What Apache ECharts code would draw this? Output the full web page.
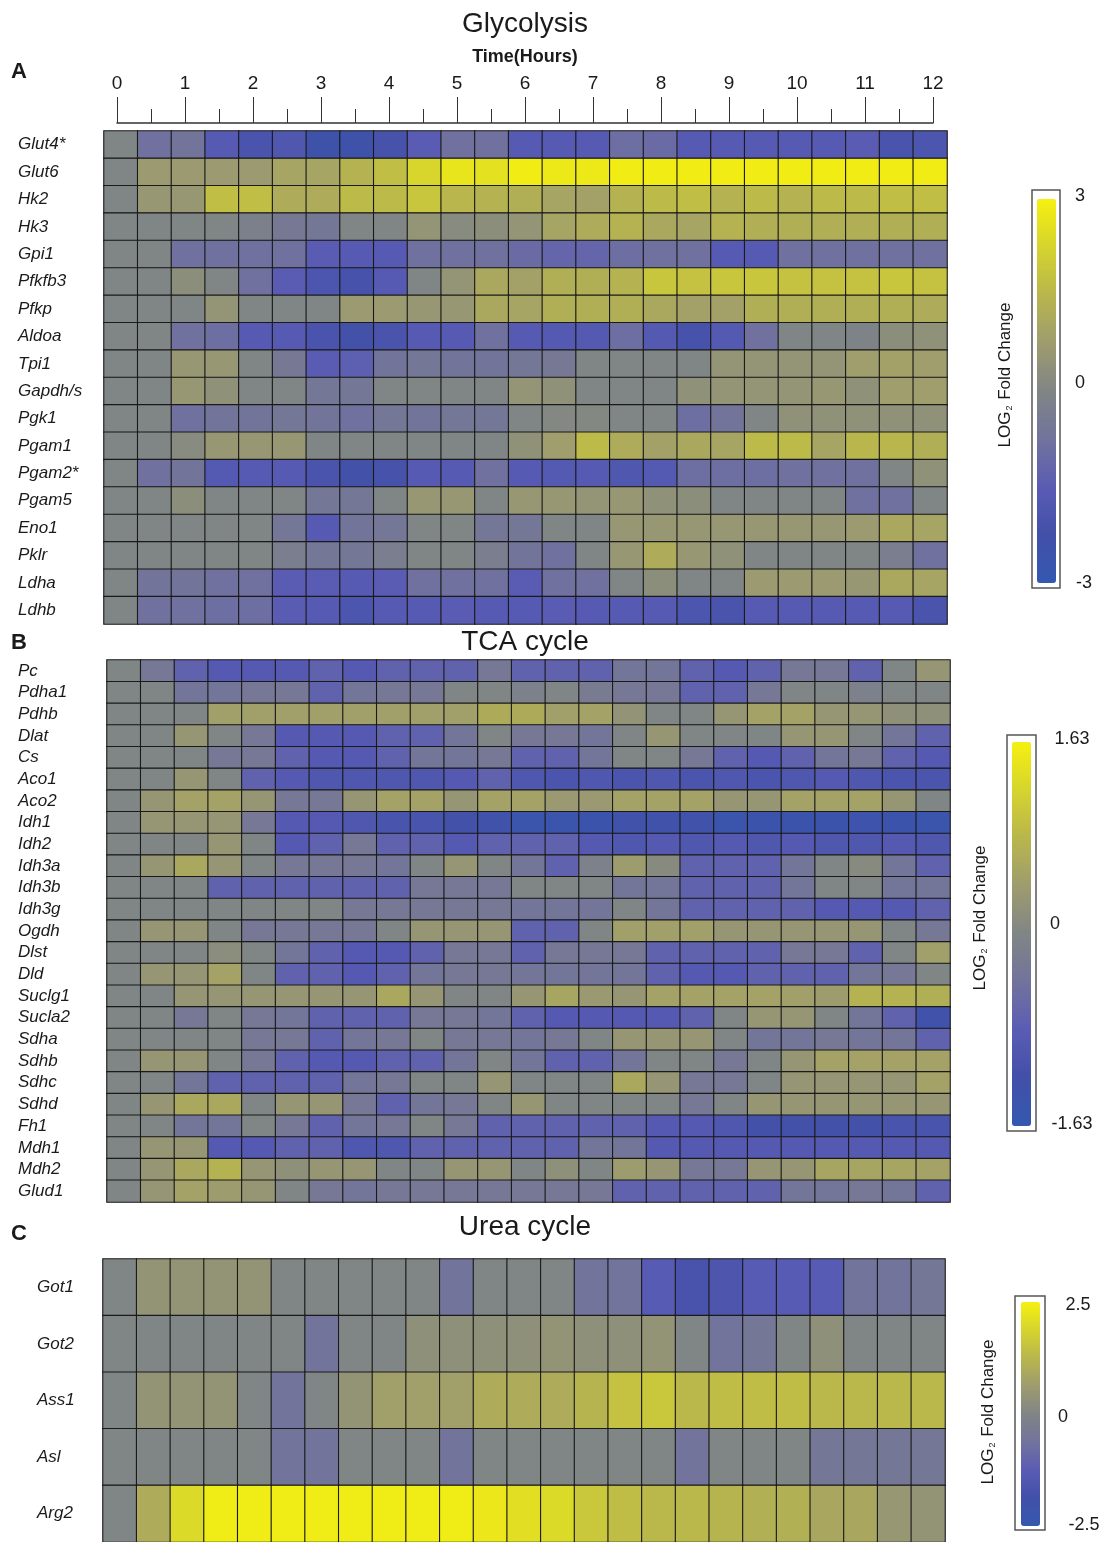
<!DOCTYPE html>
<html><head><meta charset="utf-8">
<script src="https://cdn.jsdelivr.net/npm/echarts@6/dist/echarts.min.js"></script>
<style>html,body{margin:0;padding:0;background:#fff}#c{width:1109px;height:1542px}</style>
</head><body><div id="c"></div>
<script>
// ---------- DATA ----------
const timePoints = ['0','0.5','1','1.5','2','2.5','3','3.5','4','4.5','5','5.5','6','6.5','7','7.5','8','8.5','9','9.5','10','10.5','11','11.5','12'];

const glycolysisGenes = ['Glut4*','Glut6','Hk2','Hk3','Gpi1','Pfkfb3','Pfkp','Aldoa','Tpi1','Gapdh/s','Pgk1','Pgam1','Pgam2*','Pgam5','Eno1','Pklr','Ldha','Ldhb'];
const glycolysisValues = [
  [0,-0.8,-0.7,-1.6,-2.0,-1.8,-2.4,-2.4,-2.1,-1.5,-0.8,-0.8,-1.6,-1.6,-1.6,-0.9,-1.0,-1.6,-1.6,-1.6,-1.6,-1.6,-1.5,-2.0,-1.9],
  [0,0.7,0.7,0.7,0.7,1.0,1.0,1.4,1.7,2.3,2.7,2.6,2.9,2.8,2.8,2.9,2.9,2.9,2.9,2.9,2.9,2.9,2.9,2.9,2.9],
  [0,0.6,0.6,1.7,1.7,1.2,1.2,1.6,1.6,1.9,1.5,1.4,1.3,1.0,0.9,1.4,1.6,1.7,1.4,1.6,1.4,1.6,1.6,1.7,1.7],
  [0,0,0,0,-0.2,-0.5,-0.6,0,0,0.5,0.2,0.3,0.5,1.0,1.2,1.4,1.1,1.0,1.4,1.3,1.3,1.3,1.3,1.3,1.3],
  [0,0,-0.8,-0.8,-0.8,-0.8,-1.5,-1.6,-1.6,-0.8,-0.8,-0.8,-1.0,-1.2,-1.2,-0.9,-0.8,-0.8,-1.6,-1.6,-0.8,-0.8,-0.8,-0.8,-0.8],
  [0,0,0.3,0,-0.8,-1.5,-1.9,-2.1,-1.6,0,0.5,1.1,0.9,1.3,1.3,1.4,1.9,1.8,1.9,1.9,1.8,1.8,1.8,1.9,1.8],
  [0,0,0,0.5,0,0,0,0.7,0.7,0.6,0.6,1.1,1.0,1.3,1.3,1.3,1.1,0.9,0.9,1.3,1.3,1.3,1.3,1.3,1.2],
  [0,0,-0.8,-0.9,-1.6,-1.6,-2.0,-2.2,-2.0,-1.6,-1.6,-0.8,-1.6,-1.7,-1.7,-0.9,-1.7,-2.1,-1.7,-0.8,0,0,-0.1,0.3,0.4],
  [0,0,0.6,0.6,0,-0.5,-1.5,-1.4,-0.7,-0.6,-0.7,-0.7,-0.6,-0.5,0,0,0,0,0.5,0.5,0.5,0.5,0.8,0.9,0.8],
  [0,0,0.6,0.4,0,0,-0.6,-0.6,0,0,0,0,0.5,0.4,0,0,0,0.4,0.5,0.5,0.5,0.6,0.4,0.8,0.8],
  [0,0,-0.8,-0.7,-0.7,-0.6,-0.7,-0.8,-0.6,-0.7,-0.6,-0.6,0,0.1,0.1,0,0,-0.9,-0.7,0,0.4,0.4,0.4,0.4,0.4],
  [0,0,0.2,0.6,0.6,0.6,0,0,0,0,0,0,0.4,0.8,1.6,1.2,0.9,1.1,1.0,1.6,1.6,1.0,1.5,1.5,1.3],
  [0,-0.8,-0.7,-1.7,-1.6,-1.6,-2.0,-2.2,-2.1,-1.6,-1.6,-0.8,-1.6,-1.7,-1.6,-1.8,-1.7,-0.9,-0.9,-0.9,-0.8,-0.8,-0.8,0,0.4],
  [0,0,0.3,0,0,0,-0.6,-0.6,0,0.6,0.6,0,0.6,0.6,0.5,0.6,0.4,0.3,0,0,0,0,-0.8,-0.8,0],
  [0,0,0,0,0,-0.6,-1.6,-0.7,-0.6,0,0,-0.6,-0.6,0,0,0.6,0.6,0.6,0.6,0.6,0.6,0.6,0.7,1.1,1.0],
  [0,0,0,0,0,-0.3,-0.6,-0.6,-0.3,0,0,-0.3,-0.7,-0.8,0,0.6,1.2,0.6,0.4,0,0,0,0,-0.3,-0.8],
  [0,-0.7,-0.7,-0.8,-0.8,-1.5,-1.5,-1.6,-1.5,-0.8,-0.8,-0.8,-1.5,-0.8,-0.8,0,0.3,0,0,0.7,0.7,0.7,0.6,1.1,1.0],
  [0,-0.8,-0.8,-0.9,-0.9,-1.5,-1.6,-1.9,-1.6,-1.6,-1.5,-1.6,-1.6,-1.5,-1.6,-1.6,-1.6,-1.9,-2.0,-1.6,-1.6,-1.6,-1.6,-1.6,-2.0]
];

const tcaGenes = ['Pc','Pdha1','Pdhb','Dlat','Cs','Aco1','Aco2','Idh1','Idh2','Idh3a','Idh3b','Idh3g','Ogdh','Dlst','Dld','Suclg1','Sucla2','Sdha','Sdhb','Sdhc','Sdhd','Fh1','Mdh1','Mdh2','Glud1'];
const tcaValues = [
  [0,-0.3,-0.7,-0.9,-0.9,-0.9,-0.7,-0.9,-0.7,-0.7,-0.7,-0.3,-0.7,-0.7,-0.7,-0.35,-0.35,-0.7,-0.9,-0.7,-0.3,-0.3,-0.7,0,0.3],
  [0,0,-0.35,-0.35,-0.3,-0.3,-0.7,-0.35,-0.3,-0.3,0,0,-0.1,0,-0.2,-0.3,-0.3,-0.7,-0.7,-0.3,0,0,-0.1,0,0],
  [0,0,0,0.45,0.45,0.45,0.45,0.45,0.45,0.45,0.45,0.65,0.65,0.45,0.5,0.25,0,0,0.3,0.5,0.5,0.3,0.3,0.2,0.2],
  [0,0,0.3,0,-0.3,-0.9,-0.9,-0.9,-0.7,-0.7,-0.35,0,-0.3,-0.3,-0.35,0,0.3,0,0,0,0.3,0.3,0,-0.35,-0.7],
  [0,0,0,-0.3,-0.3,-0.7,-0.9,-0.9,-0.7,-0.35,-0.35,-0.3,-0.7,-0.7,-0.35,0,0,-0.3,-0.7,-0.9,-0.7,-0.35,-0.3,-0.7,-0.9],
  [0,0,0.3,0,-0.7,-0.9,-1.0,-1.0,-1.0,-1.0,-0.9,-0.7,-1.0,-1.05,-1.0,-1.05,-1.0,-1.05,-1.0,-1.05,-1.0,-0.9,-1.0,-1.05,-1.05],
  [0,0.3,0.5,0.5,0.3,-0.3,-0.3,0.3,0.5,0.5,0.3,0.5,0.5,0.35,0.35,0.5,0.5,0.5,0.3,0.3,0.5,0.5,0.5,0.3,0],
  [0,0.3,0.3,0.3,-0.3,-0.9,-0.9,-1.0,-1.1,-1.1,-1.2,-1.3,-1.45,-1.45,-1.4,-1.3,-1.3,-1.3,-1.45,-1.4,-1.4,-1.4,-1.35,-1.4,-1.45],
  [0,0,0,0.3,0,-0.9,-0.7,-0.3,-0.7,-0.7,-0.9,-0.7,-0.7,-0.7,-0.9,-1.0,-0.9,-1.0,-0.9,-1.0,-0.9,-1.0,-1.0,-0.9,-1.0],
  [0,0.3,0.6,0.3,0,-0.3,-0.3,-0.3,-0.35,0,0.3,0,-0.35,-0.7,-0.1,0.4,0.1,-0.7,-0.7,-0.7,-0.35,0,0.1,-0.35,-0.7],
  [0,0,0,-0.7,-0.7,-0.7,-0.7,-0.7,-0.7,-0.3,-0.3,-0.3,0,0,0,-0.35,-0.35,-0.7,-0.7,-0.7,-0.35,0,0,-0.35,-0.35],
  [0,0,0,0,0,0,0,-0.3,-0.3,-0.3,-0.3,-0.3,-0.35,-0.35,-0.35,0,-0.35,-0.7,-0.7,-0.7,-0.7,-0.9,-0.9,-0.9,-0.7],
  [0,0.3,0.3,0,-0.3,-0.3,-0.3,-0.3,0,0.3,0.3,0.3,-0.7,-0.7,0,0.45,0.45,0.45,0.3,0.3,0.3,0.3,0.3,0,-0.3],
  [0,0,0,0.15,0,-0.35,-0.7,-0.9,-0.9,-0.7,-0.3,-0.3,-0.7,-0.3,-0.3,-0.3,-0.7,-0.7,-0.7,-0.7,-0.3,-0.3,-0.7,0,0.45],
  [0,0.3,0.3,0.5,0,-0.7,-0.7,-0.9,-0.7,-0.35,-0.3,-0.3,-0.35,-0.35,-0.35,-0.35,-0.7,-0.9,-0.9,-0.7,-0.7,-0.7,-0.35,-0.3,0],
  [0,0,0.3,0.3,0.3,0.3,0.3,0.3,0.6,0.3,0,0,0.3,0.55,0.35,0.3,0.5,0.5,0.5,0.5,0.45,0.4,0.75,0.75,0.7],
  [0,0,-0.3,0,-0.3,-0.35,-0.7,-0.7,-0.7,-0.3,-0.3,-0.35,-0.7,-0.9,-0.9,-0.9,-0.9,-0.7,0,0.3,0.3,0,-0.35,-0.7,-1.3],
  [0,0,0,0,-0.3,-0.3,-0.7,-0.35,-0.3,0,-0.3,-0.3,-0.35,-0.3,0,0.3,0.3,0.3,0,-0.35,-0.35,-0.3,-0.35,-0.35,-0.7],
  [0,0.3,0.3,0,-0.3,-0.7,-0.9,-0.9,-0.7,-0.7,-0.35,0,-0.35,-0.7,-0.7,-0.35,0,0,-0.3,0,0.3,0.5,0.5,0.5,0.5],
  [0,0,-0.35,-0.7,-0.7,-0.7,-0.7,-0.35,-0.3,0,0,0.3,0,0,0,0.6,0.3,-0.3,-0.3,0,0.3,0.3,0.3,0.3,0.5],
  [0,0.3,0.6,0.6,0,0.3,0.3,-0.3,-0.7,-0.35,-0.3,0,0.3,0,0,0,0,-0.3,0,0.3,0.3,0.3,0.3,0.3,0.3],
  [0,0,-0.35,-0.35,0,-0.3,-0.7,-0.35,-0.3,0,-0.3,-0.7,-0.7,-0.7,-0.7,-0.7,-0.9,-0.9,-1.0,-1.2,-1.2,-1.2,-1.2,-1.1,-1.1],
  [0,0.3,0.3,-0.9,-0.9,-0.7,-0.7,-1.0,-1.0,-0.7,-0.7,-0.7,-0.7,-0.7,-0.35,-0.35,-0.9,-0.9,-0.9,-0.9,-0.9,-0.9,-0.9,-0.9,-0.9],
  [0,0.3,0.6,0.75,0.3,0.2,0.3,0.3,0,0,0.3,0.3,0,0.2,0,0.4,0.3,-0.3,-0.3,0.3,0.3,0.55,0.55,0.55,0.5],
  [0,0.3,0.5,0.4,0.3,0,-0.3,-0.35,-0.3,-0.3,-0.3,-0.3,-0.3,-0.3,-0.3,-0.7,-0.7,-0.7,-0.7,-0.7,-0.35,-0.35,-0.3,-0.35,-0.7]
];

const ureaGenes = ['Got1','Got2','Ass1','Asl','Arg2'];
const ureaValues = [
  [0,0.4,0.4,0.4,0.4,0,0,0,0,0,-0.6,0,0,0,-0.6,-0.6,-1.3,-1.7,-1.6,-1.3,-1.3,-1.3,-0.6,-0.6,-0.5],
  [0,0,0,0,0,0,-0.6,0,0,0.3,0.3,0.3,0.3,0.4,0.3,0.3,0.4,0,-0.6,-0.5,0,0.3,0,0,0],
  [0,0.4,0.4,0.4,0,-0.6,0,0.4,0.7,0.7,0.7,1.0,1.0,1.0,1.2,1.5,1.6,1.3,1.4,1.4,1.4,1.3,1.3,1.3,1.3],
  [0,0,0,0,0,-0.6,-0.6,0,0,0,-0.6,0,0,0,0,0,0,-0.6,0,0,0,-0.5,-0.5,-0.5,-0.5],
  [0,1.0,2.0,2.4,2.4,2.4,2.4,2.4,2.4,2.4,2.4,2.3,2.1,2.0,1.6,1.4,1.3,1.3,1.2,1.1,1.1,0.9,0.9,0.5,0.4]
];

const glycolysisRange = [-3, 3];
const tcaRange = [-1.63, 1.63];
const ureaRange = [-2.5, 2.5];

// ---------- CHART ----------
const palette = ['#3558b0','#4250a8','#5a5cb4','#72739c','#808585','#9e9c6e','#b8b64c','#d6d42e','#f5f010'];
const FONT = '"Liberation Sans", Arial, sans-serif';

function toCells(values) {
  const out = [];
  values.forEach((row, i) => row.forEach((v, j) => out.push([j, i, v])));
  return out;
}

const panels = [
  {genes: glycolysisGenes, values: glycolysisValues, range: glycolysisRange,
   grid: {left: 104, top: 131, width: 843, height: 493}, labelLeft: 18},
  {genes: tcaGenes, values: tcaValues, range: tcaRange,
   grid: {left: 107, top: 660, width: 843, height: 542}, labelLeft: 18},
  {genes: ureaGenes, values: ureaValues, range: ureaRange,
   grid: {left: 103, top: 1259, width: 842, height: 287}, labelLeft: 37}
];

const grids = [], xAxes = [], yAxes = [], series = [], visualMaps = [];
panels.forEach((p, k) => {
  grids.push(Object.assign({containLabel: false}, p.grid));
  xAxes.push({gridIndex: k, type: 'category', data: timePoints, show: false});
  yAxes.push({gridIndex: k, type: 'category', data: p.genes, inverse: true,
    axisLine: {show: false}, axisTick: {show: false}, splitLine: {show: false},
    axisLabel: {interval: 0, align: 'left', margin: p.grid.left - p.labelLeft, fontStyle: 'italic',
      fontSize: 17, color: '#1a1a1a', fontFamily: FONT}});
  series.push({type: 'heatmap', xAxisIndex: k, yAxisIndex: k, data: toCells(p.values),
    itemStyle: {borderColor: '#1a1a1a', borderWidth: 1.1}, emphasis: {disabled: true}});
});

// time axis grid
grids.push({left: 117, top: 122, width: 816, height: 1});
xAxes.push({gridIndex: 3, type: 'value', position: 'top', min: 0, max: 12, interval: 1,
  axisLine: {lineStyle: {color: '#333', width: 1.5}},
  axisTick: {length: 26, lineStyle: {color: '#333', width: 1}},
  minorTick: {show: true, splitNumber: 2, length: 14, lineStyle: {color: '#333', width: 1}},
  splitLine: {show: false}, minorSplitLine: {show: false},
  axisLabel: {fontSize: 19, color: '#1a1a1a', margin: 29, fontFamily: FONT}});
yAxes.push({gridIndex: 3, type: 'value', show: false});

const bars = [
  {frame: [1032, 190, 28, 398], bar: [1037, 199, 19, 384], labels: [['3', 1080, 196], ['0', 1080, 383], ['-3', 1084, 583]], title: [1005, 375]},
  {frame: [1007, 735, 29, 396], bar: [1012, 742, 19, 384], labels: [['1.63', 1072, 739], ['0', 1055, 924], ['-1.63', 1072, 1124]], title: [980, 918]},
  {frame: [1015, 1296, 30, 234], bar: [1021, 1302, 19, 224], labels: [['2.5', 1078, 1305], ['0', 1063, 1417], ['-2.5', 1084, 1525]], title: [988, 1412]}
];

const graphic = [];
bars.forEach((b, k) => {
  visualMaps.push({type: 'continuous', seriesIndex: k, min: panels[k].range[0], max: panels[k].range[1],
    calculable: false, orient: 'vertical', left: b.bar[0], top: b.bar[1], itemWidth: b.bar[2], itemHeight: b.bar[3],
    padding: 0, inRange: {color: palette}, hoverLink: false});
  graphic.push({type: 'rect', shape: {x: b.frame[0], y: b.frame[1], width: b.frame[2], height: b.frame[3]},
    style: {fill: 'none', stroke: '#555', lineWidth: 1.5}, z: 100});
  b.labels.forEach(l => graphic.push({type: 'text', x: l[1], y: l[2],
    style: {text: l[0], fontSize: 18, fill: '#1a1a1a', font: '18px ' + FONT, align: 'center', verticalAlign: 'middle'}}));
  graphic.push({type: 'text', x: b.title[0], y: b.title[1], rotation: Math.PI / 2,
    style: {text: '{a|LOG}{b|2}{a| Fold Change}', align: 'center', verticalAlign: 'middle',
      rich: {a: {fontSize: 17, fontFamily: FONT, fill: '#1a1a1a'}, b: {fontSize: 9, fontFamily: FONT, fill: '#1a1a1a', padding: [9, 1, 0, 1]}}}});
});

const texts = [
  ['Glycolysis', 525, 24, 28, 'normal'],
  ['Time(Hours)', 525, 57, 18, 'bold'],
  ['TCA cycle', 525, 642, 28, 'normal'],
  ['Urea cycle', 525, 1227, 28, 'normal'],
  ['A', 19, 72, 22, 'bold'],
  ['B', 19, 643, 22, 'bold'],
  ['C', 19, 1234, 22, 'bold']
];
texts.forEach(t => graphic.push({type: 'text', x: t[1], y: t[2],
  style: {text: t[0], font: t[4] + ' ' + t[3] + 'px ' + FONT, fill: '#1a1a1a', align: 'center', verticalAlign: 'middle'}}));

const chart = echarts.init(document.getElementById('c'), null, {renderer: 'canvas'});
chart.setOption({
  animation: false,
  backgroundColor: '#fff',
  grid: grids, xAxis: xAxes, yAxis: yAxes, series: series,
  visualMap: visualMaps, graphic: graphic
});
</script></body></html>
